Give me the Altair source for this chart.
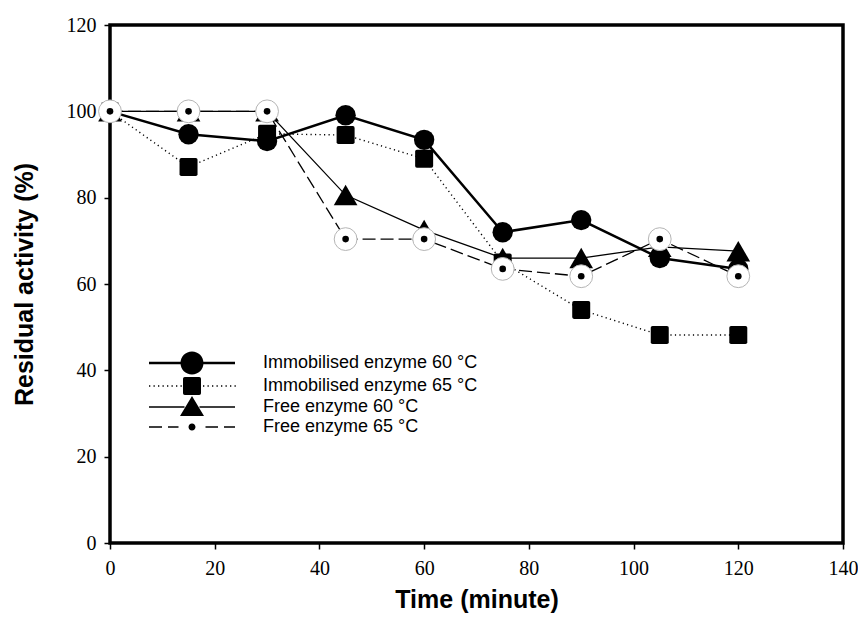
import altair as alt
import pandas as pd

# ---- data ----
time_min = [0, 15, 30, 45, 60, 75, 90, 105, 120]
immob_60 = [100, 94.7, 93.1, 99.1, 93.4, 72.0, 74.8, 66.0, 63.5]
immob_65 = [100, 87.1, 94.8, 94.5, 89.0, 65.0, 54.0, 48.2, 48.2]
free_60 = [100, 100, 100, 80.6, 72.5, 66.0, 66.0, 68.6, 67.6]
free_65 = [100, 100, 100, 70.4, 70.4, 63.5, 61.8, 70.4, 61.8]
series_names = [
    "Immobilised enzyme 60 °C",
    "Immobilised enzyme 65 °C",
    "Free enzyme 60 °C",
    "Free enzyme 65 °C",
]
x_ticks = [0, 20, 40, 60, 80, 100, 120, 140]
y_ticks = [0, 20, 40, 60, 80, 100, 120]

values = [immob_60, immob_65, free_60, free_65]
rows = []
for name, vals in zip(series_names, values):
    for t, v in zip(time_min, vals):
        rows.append({"time": t, "activity": v, "series": name})
df = pd.DataFrame(rows)

# ---- styling helpers ----
def rect(x0, x1, h):
    return f"M{x0:.3f},{-h:.3f}H{x1:.3f}V{h:.3f}H{x0:.3f}Z"

def circle(r, cx=0.0):
    return (f"M{cx + r:.3f},0A{r:.3f},{r:.3f} 0 1,1 {cx - r:.3f},0"
            f"A{r:.3f},{r:.3f} 0 1,1 {cx + r:.3f},0Z")

rounded_square = ("M-0.8,-1H0.8Q1,-1 1,-0.8V0.8Q1,1 0.8,1H-0.8"
                  "Q-1,1 -1,0.8V-0.8Q-1,-1 -0.8,-1Z")

L = 4.3
leg1 = rect(-L, -1.0, 0.13) + rect(1.0, L, 0.13) + circle(1.15)
dots = ""
xx = -L
while xx < L:
    if abs(xx) > 1.0 and abs(xx + 0.13) > 1.0:
        dots += rect(xx, xx + 0.13, 0.065)
    xx += 0.45
leg2 = dots + ("M-0.72,-0.9H0.72Q0.9,-0.9 0.9,-0.72V0.72Q0.9,0.9 0.72,0.9H-0.72"
               "Q-0.9,0.9 -0.9,0.72V-0.72Q-0.9,-0.9 -0.72,-0.9Z")
leg3 = rect(-L, -0.75, 0.065) + rect(0.75, L, 0.065) + "M0,-1.1L1.2,0.9L-1.2,0.9Z"
leg4 = (rect(-L, -3.0, 0.065) + rect(-2.4, -1.35, 0.065) + circle(0.35)
        + rect(1.35, 2.6, 0.065) + rect(3.2, L, 0.065))
legend_paths = [leg1, leg2, leg3, leg4]

line_styles = [
    {"strokeWidth": 2.5},
    {"strokeWidth": 1.4, "strokeDash": [1.2, 3.3]},
    {"strokeWidth": 1.3},
    {"strokeWidth": 1.3, "strokeDash": [13, 5]},
]

xaxis = alt.Axis(values=x_ticks, labelFont="Liberation Serif", labelFontSize=20,
                 labelColor="black", labelPadding=9, labelFlush=False, labelOverlap=False,
                 tickSize=6, tickWidth=1.5, tickColor="black", domain=False, grid=False,
                 titleFont="Liberation Sans", titleFontSize=25, titleFontWeight="bold",
                 titleColor="black", titlePadding=9)
yaxis = alt.Axis(values=y_ticks, labelFont="Liberation Serif", labelFontSize=20,
                 labelColor="black", labelPadding=8, labelFlush=False, labelOverlap=False,
                 tickSize=6, tickWidth=1.5, tickColor="black", domain=False, grid=False,
                 titleFont="Liberation Sans", titleFontSize=25, titleFontWeight="bold",
                 titleColor="black", titlePadding=29)

base = alt.Chart(df).encode(
    x=alt.X("time:Q", scale=alt.Scale(domain=[0, 140], nice=False, zero=False),
            axis=xaxis, title="Time (minute)"),
    y=alt.Y("activity:Q", scale=alt.Scale(domain=[0, 120], nice=False),
            axis=yaxis, title="Residual activity (%)"),
)

layers = []
for i, name in enumerate(series_names):
    sub = base.transform_filter(alt.datum.series == name)
    layers.append(sub.mark_line(color="black", **line_styles[i]))
    if i == 0:
        layers.append(sub.mark_point(shape="circle", filled=True, size=415,
                                     color="black", opacity=1))
    elif i == 1:
        layers.append(sub.mark_point(shape=rounded_square, filled=True, size=324,
                                     color="black", opacity=1))
    elif i == 2:
        layers.append(sub.mark_point(shape="triangle-up", filled=True, size=560,
                                     color="black", opacity=1))
    else:
        layers.append(sub.mark_circle(size=520, fill="white", stroke="#b5b5b5",
                                      strokeWidth=1, opacity=1))
        layers.append(sub.mark_circle(size=44, color="black", opacity=1))

legend_layer = base.mark_point(filled=True, opacity=0, size=400).encode(
    shape=alt.Shape("series:N",
                    scale=alt.Scale(domain=series_names, range=legend_paths),
                    legend=alt.Legend(orient="none", legendX=72, legendY=328, title=None,
                                      direction="vertical",
                                      labelFont="Liberation Sans", labelFontSize=18,
                                      labelColor="black", labelOffset=61, labelLimit=400,
                                      symbolSize=400, symbolFillColor="black",
                                      symbolStrokeWidth=0, symbolOpacity=1,
                                      rowPadding=1, padding=0)),
    color=alt.value("black"),
)
layers.append(legend_layer)

chart = alt.layer(*layers).resolve_scale(shape="independent").properties(
    width=733, height=518,
    padding={"left": 102, "top": 17, "right": 15, "bottom": 80},
    autosize=alt.AutoSizeParams(type="none"),
    background="white",
).configure_view(stroke="black", strokeWidth=3.5)

chart.save("out.html", embed_options={"renderer": "svg", "actions": False})
